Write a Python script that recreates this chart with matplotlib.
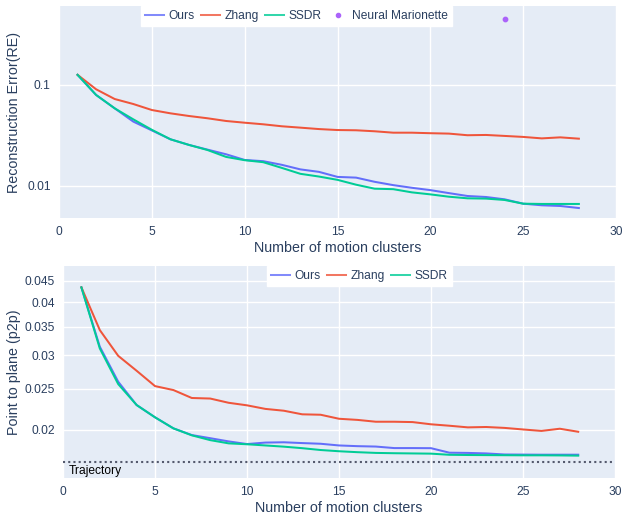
import matplotlib
matplotlib.use("Agg")
import matplotlib.pyplot as plt
from matplotlib.lines import Line2D
import matplotlib.ticker as mticker

# ---------------- data ----------------
clusters = list(range(1, 29))

re_ours = [0.126, 0.0796, 0.0587, 0.0434, 0.0355, 0.029, 0.0255, 0.0229, 0.0206, 0.0181,
           0.0176, 0.0162, 0.0146, 0.0138, 0.0123, 0.0121, 0.0110, 0.0102, 0.0096, 0.0091,
           0.0085, 0.00796, 0.00778, 0.00738, 0.00668, 0.00644, 0.00634, 0.00605]
re_zhang = [0.126, 0.0906, 0.0726, 0.0648, 0.0565, 0.0524, 0.0493, 0.0468, 0.0440, 0.0423,
            0.0408, 0.0390, 0.0378, 0.0366, 0.0358, 0.0356, 0.0348, 0.0337, 0.0337, 0.0333,
            0.0330, 0.0318, 0.0320, 0.0313, 0.0306, 0.0296, 0.0303, 0.0294]
re_ssdr = [0.126, 0.0796, 0.0587, 0.0457, 0.0360, 0.029, 0.0255, 0.0227, 0.0194, 0.0180,
           0.0172, 0.0151, 0.0132, 0.0124, 0.0115, 0.0103, 0.0094, 0.0093, 0.00865, 0.00826,
           0.00783, 0.00755, 0.0075, 0.00727, 0.00668, 0.00664, 0.00664, 0.00664]
nm_x = [24]
nm_re = [0.45]

p2p_ours = [0.0434, 0.03143, 0.02597, 0.02288, 0.0214, 0.02015, 0.01943, 0.0191, 0.01877, 0.0185,
            0.01865, 0.01868, 0.0186, 0.01853, 0.01836, 0.01829, 0.01825, 0.0181, 0.0181, 0.01809,
            0.01765, 0.01763, 0.01758, 0.01748, 0.01747, 0.01746, 0.01746, 0.01746]
p2p_zhang = [0.0434, 0.0344, 0.0299, 0.02757, 0.02536, 0.02482, 0.02377, 0.0237, 0.02316, 0.02284,
             0.0224, 0.02218, 0.02175, 0.0217, 0.02123, 0.0211, 0.02089, 0.02089, 0.02085, 0.0206,
             0.02044, 0.02026, 0.0203, 0.0202, 0.02003, 0.01987, 0.02011, 0.01978]
p2p_ssdr = [0.0434, 0.03113, 0.02564, 0.02288, 0.0214, 0.02015, 0.0194, 0.0189, 0.01857, 0.01848,
            0.01836, 0.01824, 0.01809, 0.01791, 0.01779, 0.0177, 0.01763, 0.0176, 0.01758, 0.01756,
            0.01745, 0.01743, 0.01742, 0.01741, 0.0174, 0.0174, 0.01739, 0.01737]
trajectory_p2p = 0.0168

re_ticks = [0.01, 0.1]
re_ticklabels = ["0.01", "0.1"]
p2p_ticks = [0.02, 0.025, 0.03, 0.035, 0.04, 0.045]
p2p_ticklabels = ["0.02", "0.025", "0.03", "0.035", "0.04", "0.045"]
x_ticks = [0, 5, 10, 15, 20, 25, 30]

# ---------------- style ----------------
plt.rcParams['font.family'] = ['Liberation Sans', 'DejaVu Sans']
BG = "#E5ECF6"
FG = "#2a3f5f"
C_OURS = "#636EFA"
C_ZHANG = "#EF553B"
C_SSDR = "#00CC96"
C_NM = "#AB63FA"
LW = 1.45
TICK_FS = 8.64
TITLE_FS = 10.3

W, H = 622, 518
fig = plt.figure(figsize=(W / 100, H / 100), dpi=100)


def style_axes(ax, left_px, bottom_px, height_px, width_px):
    ax.set_facecolor(BG)
    for s in ax.spines.values():
        s.set_visible(False)
    ax.grid(True, color="white", linewidth=1.0)
    ax.set_axisbelow(True)
    ax.tick_params(length=0, labelsize=TICK_FS, colors=FG, pad=6)
    ax.set_xlim(0, 30)
    ax.set_xticks(x_ticks)
    ax.xaxis.set_minor_locator(mticker.NullLocator())
    ax.set_xlabel("Number of motion clusters", fontsize=TITLE_FS, color=FG)
    ax.xaxis.label.set_va("center")
    ax.xaxis.set_label_coords(0.5, -(30.0 / height_px))
    ax.yaxis.label.set_va("center")
    ax.yaxis.set_label_coords((14.0 - left_px) / width_px, 0.5)


# top axes
ax1 = fig.add_axes([59 / W, 1 - 218 / H, 557 / W, 212 / H])
ax1.set_yscale("log")
ax1.plot(clusters, re_ours, color=C_OURS, lw=LW, label="Ours")
ax1.plot(clusters, re_zhang, color=C_ZHANG, lw=LW, label="Zhang")
ax1.plot(clusters, re_ssdr, color=C_SSDR, lw=LW, label="SSDR")
ax1.scatter(nm_x, nm_re, color=C_NM, s=10, label="Neural Marionette", zorder=3)
ax1.set_ylim(0.00482, 0.605)
ax1.set_yticks(re_ticks)
ax1.set_yticklabels(re_ticklabels)
ax1.yaxis.set_minor_locator(mticker.NullLocator())
ax1.set_ylabel("Reconstruction Error(RE)", fontsize=TITLE_FS, color=FG)
style_axes(ax1, 59, 218, 212, 557)

h1 = [Line2D([], [], color=C_OURS, lw=LW, alpha=0.8),
      Line2D([], [], color=C_ZHANG, lw=LW, alpha=0.8),
      Line2D([], [], color=C_SSDR, lw=LW, alpha=0.8),
      Line2D([], [], color=C_NM, marker="o", ls="none", markersize=3)]
ax1.legend(h1, ["Ours", "Zhang", "SSDR", "Neural Marionette"], ncol=4,
           loc="upper left", bbox_to_anchor=((140.7 - 59) / 557, 1.0),
           borderaxespad=0, frameon=True, fancybox=False, framealpha=1,
           facecolor="white", edgecolor="white", fontsize=TICK_FS,
           handlelength=1.6, handletextpad=0.35, columnspacing=0.55,
           borderpad=0.35, labelcolor=FG)

# bottom axes
ax2 = fig.add_axes([63 / W, 1 - 478 / H, 552 / W, 212 / H])
ax2.set_yscale("log")
ax2.plot(clusters, p2p_ours, color=C_OURS, lw=LW, label="Ours")
ax2.plot(clusters, p2p_zhang, color=C_ZHANG, lw=LW, label="Zhang")
ax2.plot(clusters, p2p_ssdr, color=C_SSDR, lw=LW, label="SSDR")
ax2.axhline(trajectory_p2p, color="#555a6e", lw=1.5, ls=(0, (1, 1.5)))
ax2.annotate("Trajectory", xy=(0.3, trajectory_p2p), xytext=(0, -3),
             textcoords="offset pixels", color="black", fontsize=TICK_FS,
             va="top", ha="left")
ax2.set_ylim(0.01538, 0.04875)
ax2.set_yticks(p2p_ticks)
ax2.set_yticklabels(p2p_ticklabels)
ax2.yaxis.set_minor_locator(mticker.NullLocator())
ax2.set_ylabel("Point to plane (p2p)", fontsize=TITLE_FS, color=FG)
style_axes(ax2, 63, 478, 212, 552)

ax2.legend(h1[:3], ["Ours", "Zhang", "SSDR"], ncol=3,
           loc="upper left", bbox_to_anchor=((266.7 - 63) / 552, 1.0),
           borderaxespad=0, frameon=True, fancybox=False, framealpha=1,
           facecolor="white", edgecolor="white", fontsize=TICK_FS,
           handlelength=1.6, handletextpad=0.35, columnspacing=0.55,
           borderpad=0.35, labelcolor=FG)

fig.savefig("out.png", dpi=100, facecolor="white")
